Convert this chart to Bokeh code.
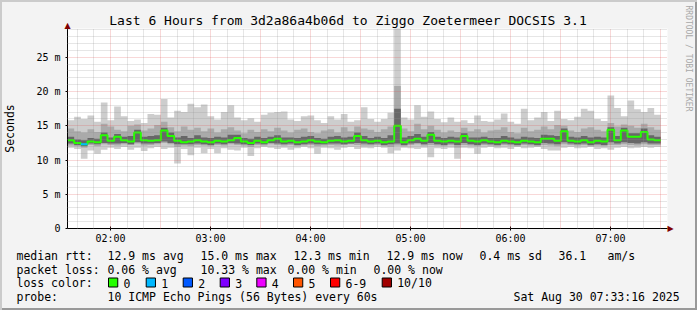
import math
from bokeh.plotting import figure
from bokeh.models import (Range1d, FixedTicker, CustomJSTickFormatter, Label)
from bokeh.embed import file_html
from bokeh.resources import INLINE

MONO = "DejaVu Sans Mono"

# ---------------- data (ms), one value per 4-minute step ----------------
T0 = 1 + 34 / 60 + 12 / 3600      # 01:34:12, left edge of graph
STEP_MIN = 4
SPAN_H = 6

rtt_max = [15.8, 16.3, 16.0, 16.5, 15.6, 18.4, 15.8, 17.8, 16.4, 15.7, 15.9, 15.4, 16.7, 16.6, 18.9,
           16.2, 17.2, 17.0, 18.2, 17.7, 18.1, 16.4, 15.9, 17.0, 18.0, 16.2, 15.8, 16.1, 15.6, 16.6,
           16.9, 17.0, 17.1, 15.9, 15.7, 16.4, 16.5, 15.8, 15.4, 16.4, 15.9, 16.7, 15.6, 15.8, 17.7,
           16.0, 15.6, 16.0, 16.9, 29.5, 16.2, 15.9, 18.0, 16.3, 17.1, 16.0, 15.5, 16.2, 15.6, 15.8,
           15.4, 16.5, 15.7, 15.6, 15.9, 16.8, 15.6, 15.3, 17.5, 15.8, 16.2, 17.0, 15.7, 17.2, 16.0,
           15.8, 16.3, 17.5, 17.2, 16.0, 15.7, 19.4, 17.6, 16.4, 18.7, 17.4, 17.0, 17.6, 16.6]
rtt_hi = [14.6, 14.2, 14.0, 14.5, 14.1, 15.3, 14.9, 14.4, 14.2, 15.0, 15.2, 14.3, 14.6, 15.1, 15.6,
          14.8, 14.2, 14.9, 14.4, 14.7, 14.2, 14.6, 14.0, 14.5, 14.8, 14.3, 13.9, 14.4, 14.1, 14.5,
          14.2, 14.7, 14.3, 14.0, 14.4, 14.6, 14.1, 13.9, 14.3, 14.5, 14.0, 14.8, 14.2, 14.9, 14.6,
          14.4, 14.1, 14.5, 14.9, 20.8, 14.6, 14.2, 15.3, 14.5, 15.0, 14.4, 14.0, 14.3, 14.1, 14.7,
          14.2, 14.5, 14.0, 14.3, 14.4, 14.8, 14.1, 13.9, 14.7, 14.2, 14.4, 14.9, 14.5, 15.1, 15.0,
          14.3, 14.1, 14.6, 14.8, 14.4, 14.2, 15.4, 14.9, 15.2, 15.0, 14.7, 15.3, 14.8, 14.4]
rtt_dhi = [13.4, 13.0, 12.9, 13.2, 13.1, 14.0, 13.3, 13.8, 13.4, 13.5, 14.4, 13.4, 13.5, 13.6, 14.7,
           14.0, 13.3, 13.5, 13.2, 13.6, 13.3, 13.2, 13.4, 13.3, 13.7, 13.7, 13.2, 13.1, 13.4, 13.2,
           13.4, 13.6, 13.3, 13.3, 13.2, 13.4, 13.5, 13.2, 13.1, 13.4, 13.5, 13.3, 13.4, 14.0, 13.5,
           13.2, 13.4, 13.2, 13.6, 17.5, 13.3, 13.5, 13.8, 13.4, 14.1, 13.4, 13.2, 13.4, 13.3, 13.9,
           13.3, 13.3, 13.4, 13.2, 13.2, 13.5, 13.3, 13.1, 13.4, 13.3, 13.2, 13.7, 13.6, 13.5, 14.6,
           13.4, 13.3, 13.5, 13.3, 13.4, 13.3, 14.8, 13.5, 14.7, 13.9, 13.9, 14.6, 13.6, 13.4]
rtt_med = [12.9, 12.5, 12.3, 12.7, 12.6, 13.6, 12.8, 13.4, 12.9, 12.7, 14.0, 12.9, 12.8, 12.9, 14.3,
           13.5, 12.8, 12.6, 12.7, 12.9, 12.7, 12.6, 12.8, 12.7, 12.9, 13.2, 12.7, 12.5, 12.8, 12.6,
           12.9, 13.1, 12.7, 12.8, 12.6, 12.7, 12.9, 12.7, 12.6, 12.8, 12.9, 12.7, 12.8, 13.5, 12.9,
           12.7, 12.8, 12.6, 12.7, 15.0, 12.6, 12.9, 13.1, 12.8, 13.7, 12.8, 12.7, 12.8, 12.7, 13.5,
           12.8, 12.7, 12.9, 12.7, 12.6, 12.8, 12.7, 12.6, 12.8, 12.7, 12.6, 13.1, 13.1, 12.8, 14.2,
           12.8, 12.7, 12.9, 12.6, 12.8, 12.7, 14.4, 12.9, 14.3, 13.4, 13.4, 14.1, 13.0, 12.9]
rtt_dlo = [12.4, 12.2, 12.0, 12.4, 12.3, 12.5, 12.4, 12.4, 12.5, 12.3, 12.6, 12.4, 12.4, 12.5, 12.7,
           12.5, 12.3, 12.3, 12.3, 12.4, 12.3, 12.2, 12.4, 12.3, 12.5, 12.4, 12.3, 12.2, 12.4, 12.3,
           12.5, 12.4, 12.3, 12.4, 12.2, 12.3, 12.4, 12.3, 12.3, 12.4, 12.4, 12.3, 12.4, 12.5, 12.4,
           12.3, 12.4, 12.2, 12.3, 12.4, 12.2, 12.4, 12.5, 12.3, 12.5, 12.3, 12.2, 12.4, 12.2, 12.5,
           12.3, 12.2, 12.4, 12.3, 12.2, 12.4, 12.3, 12.2, 12.4, 12.3, 12.2, 12.5, 12.4, 12.3, 12.6,
           12.4, 12.3, 12.4, 12.2, 12.3, 12.2, 12.6, 12.4, 12.6, 12.5, 12.4, 12.6, 12.4, 12.4]
rtt_lo = [12.1, 12.0, 11.8, 12.2, 12.0, 12.3, 12.2, 12.1, 12.3, 12.2, 12.4, 12.1, 12.2, 12.3, 12.5,
          12.3, 11.9, 12.1, 12.0, 12.2, 12.1, 12.0, 12.2, 12.1, 12.3, 12.2, 12.1, 11.9, 12.2, 12.1,
          12.3, 12.2, 12.1, 12.2, 12.0, 12.1, 12.2, 12.0, 12.1, 12.2, 12.1, 12.2, 12.3, 12.2, 12.1,
          12.1, 12.2, 12.0, 11.9, 12.1, 12.0, 12.2, 12.3, 12.1, 12.2, 12.1, 12.0, 12.2, 11.8, 12.2,
          12.1, 12.0, 12.2, 12.1, 12.0, 12.2, 12.1, 12.0, 12.2, 12.1, 12.0, 12.2, 12.1, 12.0, 12.3,
          12.2, 12.1, 12.2, 12.0, 12.1, 12.0, 12.2, 12.2, 12.3, 12.2, 12.1, 12.3, 12.2, 12.2]
rtt_min = [11.8, 11.6, 10.2, 11.4, 10.9, 11.5, 11.8, 11.6, 11.9, 11.5, 11.8, 11.3, 11.7, 11.9, 11.6,
           11.8, 9.5, 11.6, 10.7, 11.8, 11.0, 11.6, 11.0, 11.7, 11.5, 11.4, 11.8, 10.6, 11.7, 11.9,
           11.8, 11.6, 11.8, 11.5, 11.7, 11.9, 11.7, 10.9, 11.8, 11.7, 11.5, 11.8, 11.9, 11.6, 11.8,
           11.7, 11.9, 11.8, 11.0, 11.4, 11.8, 11.7, 11.6, 11.8, 10.4, 11.7, 11.6, 11.8, 10.2, 11.8,
           11.7, 10.9, 11.8, 11.9, 11.7, 11.8, 11.6, 11.9, 11.7, 11.8, 11.9, 11.6, 11.4, 11.4, 11.8,
           11.9, 11.7, 11.8, 11.9, 11.6, 11.7, 11.5, 11.8, 11.9, 11.7, 11.8, 11.9, 11.8, 11.9]
lost_pings = [0, 0, 1, 0, 0, 0, 0, 0, 0, 0, 0, 0, 0, 0, 0,
              0, 0, 0, 0, 0, 0, 0, 0, 0, 0, 0, 0, 0, 0, 0,
              0, 0, 0, 0, 0, 0, 0, 0, 0, 0, 0, 0, 0, 0, 0,
              0, 0, 0, 0, 0, 0, 0, 0, 0, 0, 0, 0, 0, 0, 0,
              0, 0, 0, 0, 0, 0, 0, 0, 0, 0, 0, 0, 0, 0, 0,
              0, 0, 0, 0, 0, 0, 0, 0, 0, 0, 0, 0, 0, 0]

loss_labels = ["0", "1", "2", "3", "4", "5", "6-9", "10/10"]
loss_colors = ["#26ff00", "#00b8ff", "#0059ff", "#7e00ff", "#ee00ff", "#ff5500", "#ff0000", "#a10000"]

hour_ticks = [2, 3, 4, 5, 6, 7]
y_major = [0, 5, 10, 15, 20, 25]

title_text = "Last 6 Hours from 3d2a86a4b06d to Ziggo Zoetermeer DOCSIS 3.1"
stats_rtt = [(16, "median rtt:"), (107, "12.9 ms avg"), (200, "15.0 ms max"), (293, "12.3 ms min"),
             (386, "12.9 ms now"), (479, "0.4 ms sd"), (558, "36.1"), (607, "am/s")]
stats_loss = [(16, "packet loss:"), (107, "0.06 % avg"), (200, "10.33 % max"),
              (287, "0.00 % min"), (373, "0.00 % now")]
probe_row = [(16, "probe:"), (107, "10 ICMP Echo Pings (56 Bytes) every 60s"),
             (513, "Sat Aug 30 07:33:16 2025")]
loss_row_title = "loss color:"
credit_text = "RRDTOOL / TOBI OETIKER"

# ---------------- figure (frame fixed at 600 x 200) ----------------
Y_TOP = 29.2
p = figure(frame_width=600, frame_height=200, output_backend="svg", toolbar_location=None, title=None,
           x_range=Range1d(T0, T0 + SPAN_H), y_range=Range1d(0, Y_TOP),
           min_border_left=67, min_border_right=30, min_border_top=28, min_border_bottom=82,
           background_fill_color="#ffffff", border_fill_color="#f3f3f3", border_fill_alpha=0.0,
           outline_line_color=None)
p.styles = {"background-color": "#f3f3f3", "max-height": "310px", "max-width": "697px",
            "overflow": "hidden",
            "box-shadow": "inset 2px 2px 0 #cbcbcb, inset -2px -2px 0 #999999"}


def X(px):
    return T0 + (px - 67) / 100.0


def Y(py):
    return (228 - py) * Y_TOP / 200.0


n = len(rtt_med)
edges = [T0 + k * STEP_MIN / 60.0 for k in range(n + 1)]


def ext(a):
    return list(a) + [a[-1]]


p.varea_step(x=edges, y1=ext(rtt_min), y2=ext(rtt_max), step_mode="after", fill_color="#cdcdcd")
p.varea_step(x=edges, y1=ext(rtt_lo), y2=ext(rtt_hi), step_mode="after", fill_color="#aaaaaa")
p.varea_step(x=edges, y1=ext(rtt_dlo), y2=ext(rtt_dhi), step_mode="after", fill_color="#676767")
p.step(x=edges, y=ext(rtt_med), mode="after", line_color=loss_colors[0], line_width=2)
lx0 = [edges[k] for k in range(n) if lost_pings[k] > 0]
lx1 = [edges[k + 1] for k in range(n) if lost_pings[k] > 0]
ly = [rtt_med[k] for k in range(n) if lost_pings[k] > 0]
lc = [loss_colors[lost_pings[k]] for k in range(n) if lost_pings[k] > 0]
p.segment(x0=lx0, y0=ly, x1=lx1, y1=ly, line_color=lc, line_width=2)

# ---------------- axes & grid ----------------
p.xaxis.ticker = FixedTicker(ticks=hour_ticks)
p.xaxis.formatter = CustomJSTickFormatter(
    code="const h = Math.round(tick); return (h < 10 ? '0' : '') + h + ':00';")
p.yaxis.ticker = FixedTicker(ticks=y_major)
p.yaxis.formatter = CustomJSTickFormatter(code="return tick == 0 ? '0' : tick + ' m';")

half_hours = [2 + i * 0.5 for i in range(12)]
ten_min = [1 + 40 / 60 + i / 6 for i in range(36) if (i + 4) % 3 != 0]
p.xgrid.ticker = FixedTicker(ticks=half_hours, minor_ticks=ten_min)
p.ygrid.ticker = FixedTicker(ticks=y_major[1:], minor_ticks=[i for i in range(1, 30) if i % 5])

for g in (p.xgrid, p.ygrid):
    g.grid_line_color = "#e05050"
    g.grid_line_alpha = 0.45
    g.grid_line_dash = "1 1"
    g.minor_grid_line_color = "#909090"
    g.minor_grid_line_alpha = 0.45
    g.minor_grid_line_dash = "1 1"
    g.level = "overlay"

for ax in (p.xaxis, p.yaxis):
    ax.axis_line_color = "#000000"
    ax.major_tick_line_color = "#000000"
    ax.minor_tick_line_color = None
    ax.major_label_text_font = MONO
    ax.major_label_text_font_size = "10px"
    ax.major_label_text_color = "#000000"
p.xaxis.major_tick_out = 2
p.xaxis.major_tick_in = 2
p.xaxis.major_label_standoff = 2
p.yaxis.major_tick_out = 2
p.yaxis.major_tick_in = 0
p.yaxis.major_label_standoff = 5
p.yaxis.axis_label = "Seconds"
p.yaxis.axis_label_text_font = MONO
p.yaxis.axis_label_text_font_size = "11.5px"
p.yaxis.axis_label_text_font_style = "normal"
p.yaxis.axis_label_text_color = "#000000"
p.yaxis.axis_label_standoff = 16


# ---------------- texts (labels living in the side panels) ----------------
def txt(side, px, py, s, size="11.5px", align="left", baseline="middle", color="#000000",
        font=MONO, **kw):
    p.add_layout(Label(x=X(px), y=Y(py), text=s, text_font=font, text_font_size=size,
                       text_align=align, text_baseline=baseline, text_color=color, **kw), side)


txt("above", 347.5, 19.5, title_text, size="13px", align="center")
txt("above", 67, 24.5, "\u25b2", size="8px", align="center", color="#800000", font="DejaVu Sans")
txt("right", 688, 5, credit_text, size="8px", color="#a8a8a8", angle=-math.pi / 2)
txt("below", 670, 228, "\u25b6", size="8px", align="center", color="#800000", font="DejaVu Sans")

for px, s in stats_rtt:
    txt("below", px, 255, s)
for px, s in stats_loss:
    txt("below", px, 269, s)
txt("below", 16, 282.5, loss_row_title)
for px, s in probe_row:
    txt("below", px, 296, s)

box_x = [108, 145.7, 182.7, 219.7, 256.3, 293, 330, 381.7]
for bx, lab, col in zip(box_x, loss_labels, loss_colors):
    txt("below", bx, 282, "\u00a0\u00a0", size="7.7px",
        background_fill_color=col, border_line_color="#000000", border_line_width=1)
    txt("below", bx + 15, 282.5, lab)

open("out.html", "w").write(file_html(p, INLINE))
